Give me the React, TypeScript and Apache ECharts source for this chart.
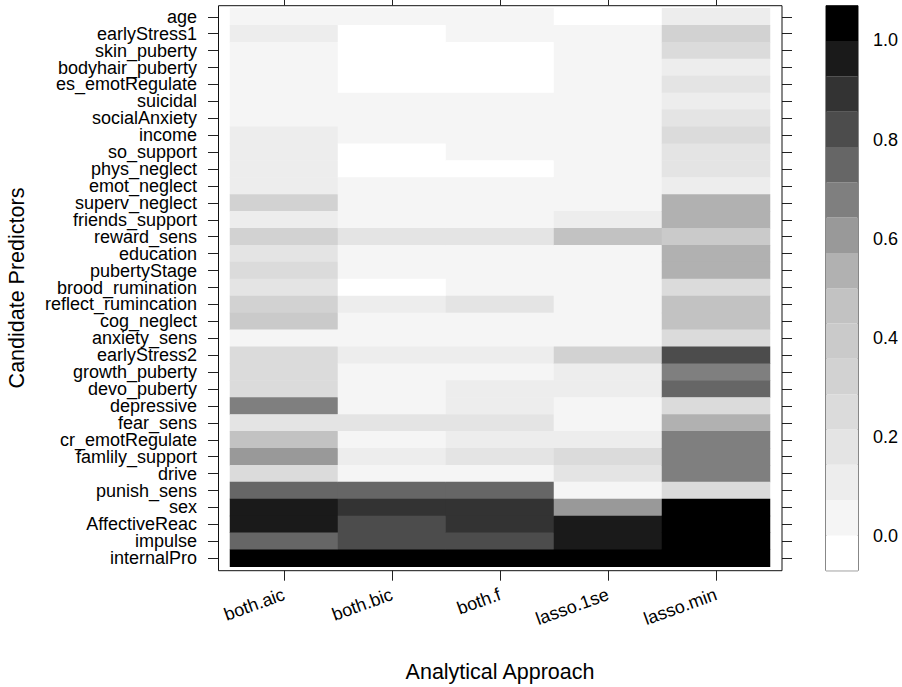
import React, { useEffect, useRef } from "react";
import * as echarts from "echarts";

// Model-selection approaches (columns) and candidate predictors (rows, top to bottom)
const approaches = ["both.aic", "both.bic", "both.f", "lasso.1se", "lasso.min"];
const predictors = [
  "age", "earlyStress1", "skin_puberty", "bodyhair_puberty", "es_emotRegulate",
  "suicidal", "socialAnxiety", "income", "so_support", "phys_neglect",
  "emot_neglect", "superv_neglect", "friends_support", "reward_sens", "education",
  "pubertyStage", "brood_rumination", "reflect_rumincation", "cog_neglect", "anxiety_sens",
  "earlyStress2", "growth_puberty", "devo_puberty", "depressive", "fear_sens",
  "cr_emotRegulate", "famlily_support", "drive", "punish_sens", "sex",
  "AffectiveReac", "impulse", "internalPro",
];

// Selection proportion of each predictor, one array per approach (same row order)
const bothAic = [
  0.04, 0.1, 0.04, 0.04, 0.04, 0.04, 0.04, 0.1, 0.1, 0.1,
  0.1, 0.32, 0.1, 0.32, 0.18, 0.25, 0.18, 0.32, 0.39, 0.04,
  0.25, 0.25, 0.25, 0.68, 0.18, 0.46, 0.61, 0.25, 0.75, 0.96,
  0.96, 0.75, 1.0,
];
const bothBic = [
  0.04, 0, 0, 0, 0, 0.04, 0.04, 0.04, 0, 0,
  0.04, 0.04, 0.04, 0.18, 0.04, 0.04, 0, 0.1, 0.04, 0.04,
  0.1, 0.04, 0.04, 0.04, 0.18, 0.04, 0.1, 0.04, 0.75, 0.89,
  0.82, 0.82, 1.0,
];
const bothF = [
  0.04, 0.04, 0, 0, 0, 0.04, 0.04, 0.04, 0.04, 0,
  0.04, 0.04, 0.04, 0.18, 0.04, 0.04, 0.04, 0.18, 0.04, 0.04,
  0.1, 0.04, 0.1, 0.1, 0.18, 0.1, 0.18, 0.04, 0.75, 0.89,
  0.89, 0.82, 1.0,
];
const lasso1se = [
  0, 0.04, 0.04, 0.04, 0.04, 0.04, 0.04, 0.04, 0.04, 0.04,
  0.04, 0.04, 0.1, 0.46, 0.04, 0.04, 0.04, 0.04, 0.04, 0.04,
  0.32, 0.1, 0.1, 0.04, 0.04, 0.1, 0.25, 0.18, 0.04, 0.61,
  0.96, 0.96, 1.0,
];
const lassoMin = [
  0.1, 0.32, 0.25, 0.1, 0.18, 0.1, 0.18, 0.25, 0.18, 0.18,
  0.1, 0.54, 0.54, 0.39, 0.54, 0.54, 0.25, 0.46, 0.46, 0.25,
  0.82, 0.68, 0.75, 0.25, 0.54, 0.68, 0.68, 0.68, 0.25, 1.0,
  1.0, 1.0, 1.0,
];
const columns = [bothAic, bothBic, bothF, lasso1se, lassoMin];

// Colour key: range, number of bands, tick labels and grey level of each band
const keyMin = -0.07;
const keyMax = 1.07;
const keyBands = 16;
const keyTicks = [0, 0.2, 0.4, 0.6, 0.8, 1.0];
const bandGreys = [255, 245, 237, 228, 219, 210, 202, 194, 177, 153, 127, 102, 76, 51, 26, 0];

const FONT = "'Liberation Sans', Arial, sans-serif";
const INK = "#000";
const TICK = "#222";

const grey = (g: number) => {
  const h = g.toString(16).padStart(2, "0");
  return `#${h}${h}${h}`;
};

export default function App() {
  const ref = useRef<HTMLDivElement>(null);

  useEffect(() => {
    if (!ref.current) return;
    const chart = echarts.init(ref.current, null, { renderer: "svg" });

    const step = (keyMax - keyMin) / keyBands;
    const edges = Array.from({ length: keyBands + 1 }, (_, k) => keyMin + k * step);

    const pieces = bandGreys.map((g, k) =>
      k === keyBands - 1
        ? { gte: edges[k], lte: edges[k + 1], color: grey(g) }
        : { gte: edges[k], lt: edges[k + 1], color: grey(g) }
    );

    const cells: number[][] = [];
    columns.forEach((col, xi) => {
      col.forEach((v, yi) => cells.push([xi, yi, v]));
    });

    const keyData = bandGreys.map((_, k) => [
      edges[k],
      edges[k + 1],
      (edges[k] + edges[k + 1]) / 2,
    ]);

    const tickStyle = { show: true, length: 10, alignWithLabel: true, lineStyle: { color: TICK, width: 1 } };

    chart.setOption({
      animation: false,
      backgroundColor: "#fff",
      textStyle: { fontFamily: FONT },
      grid: [
        { left: 230, top: 8.3, width: 540, height: 558.4, outerBoundsMode: "none", containLabel: false },
        {
          left: 826, top: 5.7, width: 32, height: 565,
          show: true, borderColor: "#111", borderWidth: 1, backgroundColor: "transparent",
          outerBoundsMode: "none", containLabel: false,
        },
      ],
      xAxis: [
        {
          type: "category", gridIndex: 0, position: "bottom", data: approaches, offset: 4,
          axisLine: { show: false }, axisTick: tickStyle, splitLine: { show: false },
          axisLabel: { rotate: 20, margin: 23, fontSize: 18, color: INK, fontFamily: FONT },
        },
        {
          type: "category", gridIndex: 0, position: "top", data: approaches, offset: 3,
          axisLine: { show: false }, axisTick: tickStyle, axisLabel: { show: false }, splitLine: { show: false },
        },
        { type: "value", gridIndex: 1, min: 0, max: 1, show: false },
      ],
      yAxis: [
        {
          type: "category", gridIndex: 0, position: "left", data: predictors, inverse: true, offset: 12,
          axisLine: { show: false }, axisTick: tickStyle, splitLine: { show: false },
          axisLabel: {
            margin: 21, fontSize: 18, lineHeight: 15, color: INK, fontFamily: FONT, interval: 0,
          },
        },
        {
          type: "category", gridIndex: 0, position: "right", data: predictors, inverse: true, offset: 12,
          axisLine: { show: false }, axisTick: tickStyle, axisLabel: { show: false }, splitLine: { show: false },
        },
        {
          type: "value", gridIndex: 1, position: "right", min: keyMin, max: keyMax,
          axisLine: { show: false }, splitLine: { show: false },
          axisTick: { show: true, length: 7, customValues: keyTicks, lineStyle: { color: TICK, width: 1 } },
          axisLabel: {
            show: true, margin: 15, fontSize: 18, color: INK, fontFamily: FONT,
            customValues: keyTicks, formatter: (v: number) => v.toFixed(1),
          },
        },
      ],
      visualMap: {
        type: "piecewise", show: false, dimension: 2, seriesIndex: [0, 1], pieces,
      },
      series: [
        {
          type: "heatmap", xAxisIndex: 0, yAxisIndex: 0, data: cells,
          itemStyle: { borderWidth: 0 }, emphasis: { disabled: true },
        },
        {
          type: "custom", xAxisIndex: 2, yAxisIndex: 2, data: keyData, silent: true,
          renderItem: (params: any, api: any) => {
            const top = api.coord([0, api.value(1)]);
            const bottom = api.coord([0, api.value(0)]);
            const cs = params.coordSys;
            return {
              type: "rect",
              shape: { x: cs.x, y: top[1], width: cs.width, height: bottom[1] - top[1] },
              style: { fill: api.visual("color") },
            };
          },
        },
      ],
      graphic: [
        {
          type: "rect", z: 100, silent: true,
          shape: { x: 218.5, y: 5.7, width: 563.5, height: 565 },
          style: { fill: "none", stroke: "#111", lineWidth: 1 },
        },
        {
          type: "text", x: 500, y: 672, silent: true,
          style: {
            text: "Analytical Approach", fontSize: 21.5, fontFamily: FONT, fill: INK,
            textAlign: "center", textVerticalAlign: "middle",
          },
        },
        {
          type: "text", x: 17, y: 288, rotation: Math.PI / 2, silent: true,
          style: {
            text: "Candidate Predictors", fontSize: 21.5, fontFamily: FONT, fill: INK,
            textAlign: "center", textVerticalAlign: "middle",
          },
        },
      ],
    });

    return () => chart.dispose();
  }, []);

  return (
    <div
      ref={ref}
      style={{ position: "absolute", left: 0, top: 0, width: 902, height: 687, background: "#fff" }}
    />
  );
}
